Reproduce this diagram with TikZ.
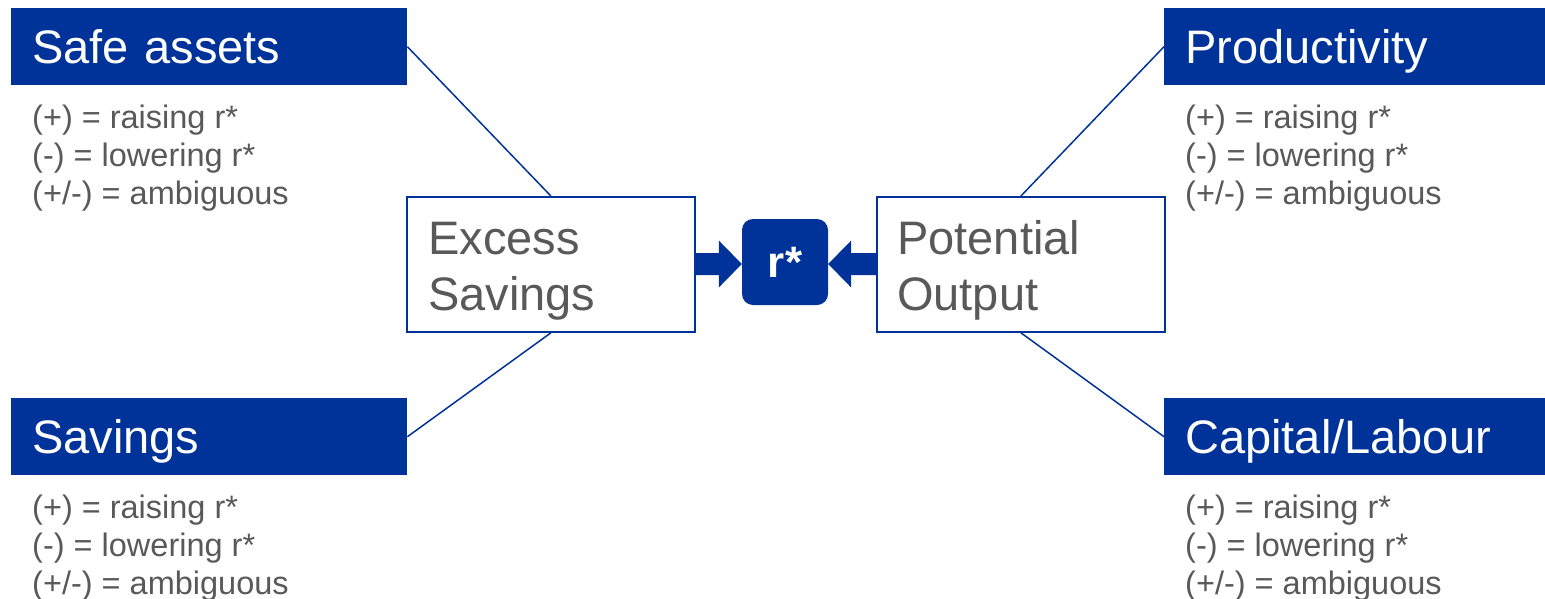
\documentclass[tikz,border=0pt]{standalone}
\usepackage{fontspec}
\setmainfont{Liberation Sans}
\usetikzlibrary{calc}
\definecolor{ecbblue}{RGB}{0,51,153}
\definecolor{txtgray}{RGB}{89,89,89}
\tikzset{
  header/.style={fill=ecbblue, text=white, anchor=north west, inner sep=0pt, inner xsep=21pt,
    minimum width=#1, minimum height=77pt, text width=#1-42pt, align=left,
    text height=34pt, text depth=0pt, font=\fontsize{47}{56}\selectfont},
  bodyline/.style={anchor=base west, inner sep=0pt, text=txtgray, font=\fontsize{32.5}{38}\selectfont},
  factor/.style={draw=ecbblue, line width=1.8pt, fill=white, anchor=north west, inner sep=0pt,
    minimum width=288pt, minimum height=135pt},
  factortext/.style={anchor=base west, inner sep=0pt, text=txtgray, font=\fontsize{47}{56}\selectfont},
  link/.style={draw=ecbblue, line width=1.5pt},
  blockarrow/.style={fill=ecbblue},
}
\begin{document}
\begin{tikzpicture}[x=1pt, y=-1pt]
\useasboundingbox (0,0) rectangle (1545,598);
% header boxes
\node[header=396pt] (safe) at (11,8) {Safe assets};
\node[header=396pt] (sav) at (11,398) {Savings};
\node[header=381pt] (prod) at (1164,8) {Productivity};
\node[header=381pt] (cap) at (1164,398) {Capital/Labour};
% legend lines
\node[bodyline] (safe1) at (32,128) {(+) = raising r*};
\node[bodyline] (safe2) at (32,166) {(-) = lowering r*};
\node[bodyline] (safe3) at (32,204) {(+/-) = ambiguous};
\node[bodyline] (sav1) at (32,518) {(+) = raising r*};
\node[bodyline] (sav2) at (32,556) {(-) = lowering r*};
\node[bodyline] (sav3) at (32,594) {(+/-) = ambiguous};
\node[bodyline] (prod1) at (1185,128) {(+) = raising r*};
\node[bodyline] (prod2) at (1185,166) {(-) = lowering r*};
\node[bodyline] (prod3) at (1185,204) {(+/-) = ambiguous};
\node[bodyline] (cap1) at (1185,518) {(+) = raising r*};
\node[bodyline] (cap2) at (1185,556) {(-) = lowering r*};
\node[bodyline] (cap3) at (1185,594) {(+/-) = ambiguous};
% central boxes
\node[factor] (excess) at (406,196) {};
\node[factortext] (excess1) at (428,254) {Excess};
\node[factortext] (excess2) at (428,310) {Savings};
\node[factor] (pot) at (876,196) {};
\node[factortext] (pot1) at (897,254) {Potential};
\node[factortext] (pot2) at (897,310) {Output};
\node[fill=ecbblue, rounded corners=11pt, minimum width=86pt, minimum height=86pt, inner sep=0pt,
  text=white, font=\fontsize{44}{50}\selectfont\bfseries] (rstar) at (785,262) {r*};
% connectors
\draw[link] (safe.east) -- (excess.north);
\draw[link] (sav.east) -- (excess.south);
\draw[link] (prod.west) -- (pot.north);
\draw[link] (cap.west) -- (pot.south);
% block arrows
\coordinate (lt) at ($(rstar.west)+(0,2)$);
\coordinate (ls) at (excess.east |- lt);
\fill[blockarrow] ($(ls)+(-1,-11)$) -- ($(lt)+(-23,-11)$) -- ($(lt)+(-23,-23.5)$) -- (lt)
  -- ($(lt)+(-23,23.5)$) -- ($(lt)+(-23,11)$) -- ($(ls)+(-1,11)$) -- cycle;
\coordinate (rt) at ($(rstar.east)+(0,2)$);
\coordinate (rs) at (pot.west |- rt);
\fill[blockarrow] ($(rs)+(1,-11)$) -- ($(rt)+(23,-11)$) -- ($(rt)+(23,-23.5)$) -- (rt)
  -- ($(rt)+(23,23.5)$) -- ($(rt)+(23,11)$) -- ($(rs)+(1,11)$) -- cycle;
\end{tikzpicture}
\end{document}
